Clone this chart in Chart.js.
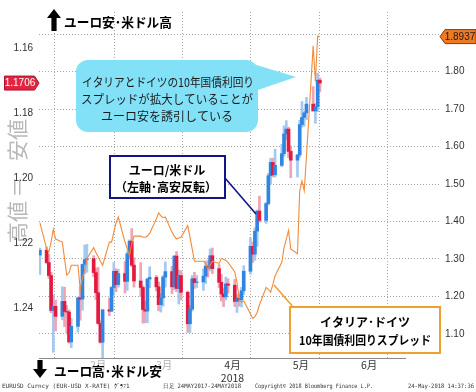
<!DOCTYPE html>
<html><head><meta charset="utf-8">
<script src="https://cdn.jsdelivr.net/npm/chart.js@4.4.1/dist/chart.umd.min.js"></script>
<style>html,body{margin:0;padding:0;background:#fff;}#wrap{width:476px;height:392px;position:relative;}</style>
</head><body><div id="wrap"><canvas id="c" width="476" height="392"></canvas></div>
<script>
// ---- data ----
const dates = ['2018-01-19','2018-01-22','2018-01-23','2018-01-24','2018-01-25','2018-01-26','2018-01-29','2018-01-30','2018-01-31',
'2018-02-01','2018-02-02','2018-02-05','2018-02-06','2018-02-07','2018-02-08','2018-02-09','2018-02-12','2018-02-13','2018-02-14','2018-02-15','2018-02-16','2018-02-19','2018-02-20','2018-02-21','2018-02-22','2018-02-23','2018-02-26','2018-02-27','2018-02-28',
'2018-03-01','2018-03-02','2018-03-05','2018-03-06','2018-03-07','2018-03-08','2018-03-09','2018-03-12','2018-03-13','2018-03-14','2018-03-15','2018-03-16','2018-03-19','2018-03-20','2018-03-21','2018-03-22','2018-03-23','2018-03-26','2018-03-27','2018-03-28','2018-03-29','2018-03-30',
'2018-04-02','2018-04-03','2018-04-04','2018-04-05','2018-04-06','2018-04-09','2018-04-10','2018-04-11','2018-04-12','2018-04-13','2018-04-16','2018-04-17','2018-04-18','2018-04-19','2018-04-20','2018-04-23','2018-04-24','2018-04-25','2018-04-26','2018-04-27','2018-04-30',
'2018-05-01','2018-05-02','2018-05-03','2018-05-04','2018-05-07','2018-05-08','2018-05-09','2018-05-10','2018-05-11','2018-05-14','2018-05-15','2018-05-16','2018-05-17','2018-05-18','2018-05-21','2018-05-22','2018-05-23','2018-05-24'];

const eurOpen = [1.2237,1.2222,1.2260,1.2300,1.2408,1.2395,1.2426,1.2380,1.2411,
1.2413,1.2505,1.2457,1.2369,1.2373,1.2266,1.2251,1.2248,1.2291,1.2353,1.2448,1.2506,1.2406,1.2410,1.2337,1.2287,1.2328,1.2294,1.2318,1.2233,
1.2194,1.2268,1.2317,1.2337,1.2405,1.2410,1.2311,1.2306,1.2335,1.2390,1.2369,1.2305,1.2288,1.2335,1.2240,1.2340,1.2300,1.2352,1.2449,1.2404,1.2310,1.2322,
1.2320,1.2302,1.2271,1.2277,1.2239,1.2279,1.2321,1.2357,1.2366,1.2326,1.2330,1.2380,1.2370,1.2375,1.2347,1.2287,1.2210,1.2234,1.2163,1.2101,1.2130,
1.2078,1.1992,1.1951,1.1989,1.1960,1.1924,1.1863,1.1848,1.1917,1.1944,1.1928,1.1834,1.1812,1.1798,1.1771,1.1792,1.1779,1.1697];
const eurHigh = [1.2297,1.2264,1.2309,1.2415,1.2537,1.2471,1.2437,1.2458,1.2477,
1.2509,1.2523,1.2475,1.2438,1.2407,1.2295,1.2290,1.2304,1.2374,1.2450,1.2509,1.2555,1.2424,1.2412,1.2361,1.2350,1.2336,1.2354,1.2346,1.2245,
1.2273,1.2336,1.2365,1.2447,1.2446,1.2446,1.2338,1.2348,1.2409,1.2413,1.2395,1.2336,1.2356,1.2344,1.2350,1.2388,1.2375,1.2476,1.2476,1.2410,1.2340,1.2337,
1.2346,1.2325,1.2305,1.2286,1.2294,1.2337,1.2379,1.2396,1.2376,1.2355,1.2396,1.2414,1.2395,1.2397,1.2359,1.2296,1.2260,1.2253,1.2210,1.2136,1.2139,
1.2083,1.2018,1.1996,1.1996,1.1964,1.1932,1.1880,1.1936,1.1998,1.1996,1.1935,1.1842,1.1839,1.1819,1.1792,1.1830,1.1794,1.1733];
const eurLow = [1.2215,1.2212,1.2235,1.2290,1.2360,1.2376,1.2335,1.2336,1.2393,
1.2406,1.2432,1.2367,1.2335,1.2265,1.2206,1.2204,1.2239,1.2277,1.2275,1.2440,1.2405,1.2370,1.2334,1.2260,1.2279,1.2281,1.2257,1.2227,1.2190,
1.2155,1.2246,1.2260,1.2332,1.2378,1.2309,1.2273,1.2300,1.2320,1.2355,1.2300,1.2258,1.2272,1.2239,1.2226,1.2283,1.2285,1.2348,1.2392,1.2300,1.2290,1.2300,
1.2280,1.2255,1.2254,1.2218,1.2215,1.2266,1.2297,1.2339,1.2305,1.2310,1.2312,1.2360,1.2357,1.2337,1.2270,1.2184,1.2196,1.2153,1.2098,1.2055,1.2075,
1.1985,1.1938,1.1938,1.1910,1.1895,1.1838,1.1822,1.1842,1.1900,1.1926,1.1821,1.1763,1.1794,1.1750,1.1717,1.1770,1.1676,1.1690];
const eurClose = [1.2222,1.2260,1.2300,1.2408,1.2395,1.2426,1.2380,1.2411,1.2413,
1.2505,1.2457,1.2369,1.2373,1.2266,1.2251,1.2248,1.2291,1.2353,1.2448,1.2506,1.2406,1.2410,1.2337,1.2287,1.2328,1.2294,1.2318,1.2233,1.2194,
1.2268,1.2317,1.2337,1.2405,1.2410,1.2311,1.2306,1.2335,1.2390,1.2369,1.2305,1.2288,1.2335,1.2240,1.2340,1.2300,1.2352,1.2449,1.2404,1.2310,1.2322,1.2320,
1.2302,1.2271,1.2277,1.2239,1.2279,1.2321,1.2357,1.2366,1.2326,1.2330,1.2380,1.2370,1.2375,1.2347,1.2287,1.2210,1.2234,1.2163,1.2101,1.2130,1.2078,
1.1992,1.1951,1.1989,1.1960,1.1924,1.1863,1.1848,1.1917,1.1944,1.1928,1.1834,1.1812,1.1798,1.1771,1.1792,1.1779,1.1697,1.1706];

const spread = [1.397,1.327,1.319,1.345,1.379,1.353,1.345,1.301,1.257,
1.263,1.283,1.283,1.219,1.250,1.268,1.301,1.330,1.317,1.306,1.294,1.283,1.345,1.345,1.371,1.397,1.412,1.345,1.327,1.309,
1.340,1.361,1.361,1.358,1.358,1.361,1.368,1.407,1.423,1.415,1.410,1.412,1.371,1.361,1.353,1.356,1.358,1.389,1.358,1.327,1.294,1.294,
1.294,1.288,1.273,1.283,1.294,1.288,1.301,1.299,1.296,1.291,1.265,1.237,1.190,1.185,1.188,1.154,1.141,1.146,1.157,1.177,1.224,
1.219,1.211,1.232,1.255,1.291,1.330,1.353,1.376,1.327,1.314,1.482,1.508,1.482,1.572,1.869,1.774,1.895,1.8937];

const leftTicks = [1.16,1.18,1.20,1.22,1.24];
const rightTicks = [1.10,1.20,1.30,1.40,1.50,1.60,1.70,1.80,1.90];
const monthBounds = ['2018-02-01','2018-03-01','2018-04-01','2018-05-01','2018-06-01','2018-07-01'];
const monthLabels = ['2月','3月','4月','5月','6月'];
const yearLabel = '2018';

// ---- helpers ----
const dayOf = s => (Date.UTC(+s.slice(0,4), +s.slice(5,7)-1, +s.slice(8,10)) - Date.UTC(2018,0,1)) / 86400000;
const xs = dates.map(dayOf);
const boundDays = monthBounds.map(dayOf);
const labelDays = monthLabels.map((_, i) => (boundDays[i] + boundDays[i+1]) / 2 - 1);
const isBound = v => boundDays.some(b => Math.abs(b - v) < 0.01);
const up = eurClose.map((c, i) => c >= eurOpen[i]);

const wickData = xs.map((x, i) => ({x, y: [eurLow[i], eurHigh[i]]}));
const bodyData = xs.map((x, i) => ({x, y: [Math.min(eurOpen[i], eurClose[i]), Math.max(eurOpen[i], eurClose[i]) + (eurOpen[i] === eurClose[i] ? 0.0002 : 0)]}));
const spreadData = xs.map((x, i) => ({x, y: spread[i]}));

const BLUE = '#2f86e2', LBLUE = '#a3c9ef', RED = '#e3193f', PINK = '#f1a2b5';
const GRID = '#a6a6a6';

Chart.defaults.font.family = '"Liberation Sans", Arial, sans-serif';
Chart.defaults.color = '#333';

function arrow(ctx, cx, y1, y2, dir) {
  const hw = 7, sw = 2.6, hh = 9;
  ctx.beginPath();
  ctx.moveTo(cx, y1);
  ctx.lineTo(cx + hw, y1 + dir * hh);
  ctx.lineTo(cx + sw, y1 + dir * hh);
  ctx.lineTo(cx + sw, y2);
  ctx.lineTo(cx - sw, y2);
  ctx.lineTo(cx - sw, y1 + dir * hh);
  ctx.lineTo(cx - hw, y1 + dir * hh);
  ctx.closePath();
  ctx.fill();
}

const annot = {
  id: 'annot',
  beforeDraw(chart) {
    const ctx = chart.ctx;
    ctx.save();
    ctx.fillStyle = '#fff';
    ctx.fillRect(0, 0, chart.width, chart.height);
    ctx.translate(17, 172);
    ctx.rotate(-Math.PI / 2);
    ctx.fillStyle = '#b8b8b8';
    ctx.font = '21px "Noto Sans CJK JP"';
    ctx.textAlign = 'center';
    ctx.textBaseline = 'middle';
    ctx.fillText('高値', -50, 0);
    ctx.fillText('＝', -15, 0);
    ctx.fillText('安値', 32, 0);
    ctx.restore();
  },
  afterDraw(chart) {
    const ctx = chart.ctx;
    const yL = chart.scales.y, y2 = chart.scales.y2;
    ctx.save();
    ctx.fillStyle = '#000';
    arrow(ctx, 54, 9, 31, 1);
    arrow(ctx, 40, 378, 360, -1);
    ctx.font = 'bold 13px "Noto Sans CJK JP"';
    ctx.textBaseline = 'middle';
    ctx.textAlign = 'left';
    ctx.fillText('ユーロ安･米ドル高', 64, 22, 108);
    ctx.fillText('ユーロ高･米ドル安', 54, 371, 108);

    // cyan callout
    ctx.fillStyle = '#82e1f6';
    ctx.beginPath();
    ctx.roundRect(76, 60, 182, 72, 12);
    ctx.fill();
    ctx.beginPath();
    ctx.moveTo(250, 63); ctx.lineTo(296, 77); ctx.lineTo(252, 92); ctx.closePath();
    ctx.fill();
    ctx.fillStyle = '#1a1a1a';
    ctx.font = '12px "Noto Sans CJK JP"';
    ctx.textAlign = 'center';
    ctx.fillText('イタリアとドイツの10年国債利回り', 168, 82, 172);
    ctx.fillText('スプレッドが拡大していることが', 167, 99, 172);
    ctx.fillText('ユーロ安を誘引している', 167, 116, 172);

    // navy box
    ctx.strokeStyle = '#14148a';
    ctx.lineWidth = 1.6;
    ctx.beginPath(); ctx.moveTo(225, 178); ctx.lineTo(256, 214); ctx.stroke();
    ctx.fillStyle = '#fff';
    ctx.fillRect(110, 156, 115, 42);
    ctx.lineWidth = 2;
    ctx.strokeRect(110, 156, 115, 42);
    ctx.fillStyle = '#000';
    ctx.font = 'bold 12px "Noto Sans CJK JP"';
    ctx.fillText('ユーロ/米ドル', 167, 170);
    ctx.fillText('（左軸･高安反転）', 166, 187, 104);

    // orange box
    ctx.strokeStyle = '#f0a030';
    ctx.lineWidth = 1.6;
    ctx.beginPath(); ctx.moveTo(274, 285); ctx.lineTo(294, 308); ctx.stroke();
    ctx.fillStyle = '#fff';
    ctx.fillRect(290, 307, 150, 46);
    ctx.lineWidth = 2;
    ctx.strokeRect(290, 307, 150, 46);
    ctx.fillStyle = '#000';
    ctx.fillText('イタリア･ドイツ', 365, 322);
    ctx.fillText('10年国債利回りスプレッド', 365, 340, 132);

    // left last-price tag
    const lastC = eurClose[eurClose.length - 1];
    const cy = yL.getPixelForValue(lastC);
    ctx.fillStyle = '#e3263f';
    ctx.strokeStyle = '#b01030';
    ctx.lineWidth = 1;
    ctx.beginPath();
    ctx.moveTo(4.5, cy - 7); ctx.lineTo(34.5, cy - 7); ctx.lineTo(39, cy); ctx.lineTo(34.5, cy + 7); ctx.lineTo(4.5, cy + 7); ctx.closePath();
    ctx.fill(); ctx.stroke();
    ctx.fillStyle = '#fff';
    ctx.font = '10px "Liberation Sans"';
    ctx.fillText(lastC.toFixed(4), 20, cy + 0.5);

    // right last-value tag
    const lastS = spread[spread.length - 1];
    const sy = y2.getPixelForValue(lastS);
    ctx.fillStyle = '#f07a22';
    ctx.strokeStyle = '#8a3c00';
    ctx.beginPath();
    ctx.moveTo(440, sy); ctx.lineTo(445, sy - 7); ctx.lineTo(476, sy - 7); ctx.lineTo(476, sy + 7); ctx.lineTo(445, sy + 7); ctx.closePath();
    ctx.fill(); ctx.stroke();
    ctx.fillStyle = '#1a1a1a';
    ctx.fillText(lastS.toFixed(4), 460, sy + 0.5);

    // footer
    ctx.fillStyle = '#333';
    ctx.font = '6px "DejaVu Sans Mono"';
    ctx.textAlign = 'left';
    ctx.fillText('EURUSD Curncy (EUR-USD X-RATE) ｸﾞﾗﾌ1', 2, 386, 146);
    ctx.fillText('日足 24MAY2017-24MAY2018', 163, 386, 78);
    ctx.fillText('Copyright© 2018 Bloomberg Finance L.P.', 255, 386, 118);
    ctx.fillText('24-May-2018 14:37:36', 408, 386, 66);
    ctx.restore();
  }
};

new Chart(document.getElementById('c'), {
  type: 'bar',
  data: {
    datasets: [
      {type: 'line', data: spreadData, yAxisID: 'y2', xAxisID: 'x', borderColor: '#f28a38', borderWidth: 1.1, pointRadius: 0, tension: 0, order: 0},
      {type: 'bar', data: bodyData, yAxisID: 'y', xAxisID: 'x', backgroundColor: up.map(u => u ? RED : BLUE), barThickness: 3, grouped: false, borderWidth: 0, order: 1},
      {type: 'bar', data: wickData, yAxisID: 'y', xAxisID: 'x', backgroundColor: up.map(u => u ? PINK : LBLUE), barThickness: 2, grouped: false, borderWidth: 0, order: 2}
    ]
  },
  options: {
    responsive: false,
    animation: false,
    devicePixelRatio: 1,
    layout: {padding: 0},
    plugins: {legend: {display: false}, tooltip: {enabled: false}},
    scales: {
      x: {
        type: 'linear', position: 'bottom', min: 17.6, max: 181, offset: false,
        afterBuildTicks: s => { s.ticks = boundDays.concat(labelDays).sort((a, b) => a - b).map(v => ({value: v})); },
        afterFit: s => { s.height = 34; },
        grid: {color: c => (c.tick && isBound(c.tick.value)) ? GRID : 'rgba(0,0,0,0)', lineWidth: 1, drawTicks: false},
        border: {display: true, color: '#8a8a8a', width: 1, dash: [1, 2]},
        ticks: {
          autoSkip: false, maxRotation: 0, padding: 1,
          font: {size: 10.5, family: '"Noto Sans CJK JP"'},
          color: c => (c.tick && c.tick.value < boundDays[2]) ? '#b0b0b0' : '#333',
          callback: v => {
            const i = labelDays.findIndex(d => Math.abs(d - v) < 0.01);
            if (i < 0) return '';
            return i === 2 ? [monthLabels[i], yearLabel] : monthLabels[i];
          }
        }
      },
      y: {
        type: 'linear', position: 'left', reverse: true, min: 1.14866, max: 1.25547,
        afterBuildTicks: s => { s.ticks = leftTicks.map(v => ({value: v})); },
        afterFit: s => { s.width = 39; },
        grid: {display: false, drawTicks: false, tickLength: 0},
        border: {display: false},
        ticks: {padding: 6, font: {size: 10}, color: '#333', callback: v => v.toFixed(2)}
      },
      y2: {
        type: 'linear', position: 'right', min: 1.0355, max: 1.9594,
        afterBuildTicks: s => { s.ticks = rightTicks.map(v => ({value: v})); },
        afterFit: s => { s.width = 71; },
        grid: {color: GRID, lineWidth: 1, drawTicks: true, tickLength: 36, tickColor: GRID, tickBorderDash: [1, 2]},
        border: {display: true, width: 0, color: 'rgba(0,0,0,0)', dash: [1, 2]},
        ticks: {padding: 4, font: {size: 10}, color: '#333', callback: v => v > 1.85 ? '' : v.toFixed(2)}
      }
    }
  },
  plugins: [annot]
});
</script>
</body></html>
